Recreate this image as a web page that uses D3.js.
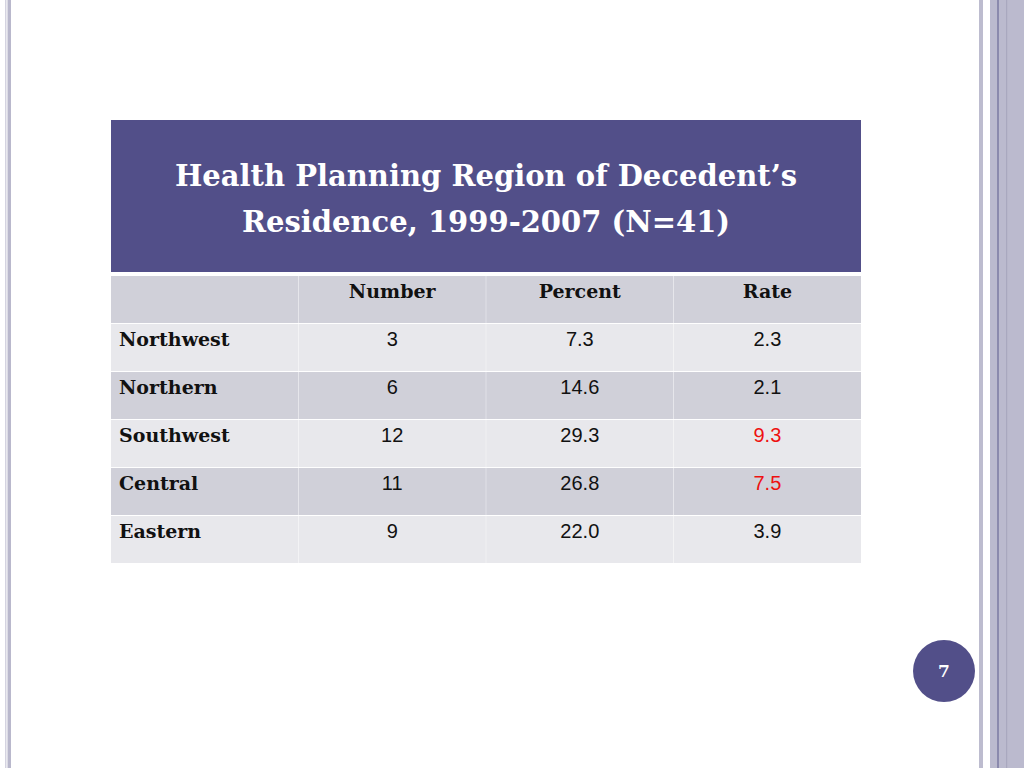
<!DOCTYPE html>
<html><head><meta charset="utf-8">
<script src="https://cdn.jsdelivr.net/npm/d3@7"></script>
<style>body{margin:0;background:#fff}svg{display:block}</style>
</head><body>
<script>
const titleLines = ["Health Planning Region of Decedent\u2019s", "Residence, 1999-2007 (N=41)"];
const columns = ["", "Number", "Percent", "Rate"];
const regions = ["Northwest", "Northern", "Southwest", "Central", "Eastern"];
const numbers = ["3", "6", "12", "11", "9"];
const percents = ["7.3", "14.6", "29.3", "26.8", "22.0"];
const rates = ["2.3", "2.1", "9.3", "7.5", "3.9"];
const highlightedRates = ["Southwest", "Central"];
const pageNumber = "7";

const W = 1024, H = 768;
const svg = d3.select("body").append("svg").attr("width", W).attr("height", H);
svg.append("rect").attr("width", W).attr("height", H).attr("fill", "#fff");

// slide decorations
svg.append("rect").attr("x", 5).attr("y", 0).attr("width", 1.5).attr("height", H).attr("fill", "#d4d3e0");
svg.append("rect").attr("x", 7.5).attr("y", 0).attr("width", 3.5).attr("height", H).attr("fill", "#b9b8cc");
svg.append("rect").attr("x", 979).attr("y", 0).attr("width", 4).attr("height", H).attr("fill", "#bdbccf");
svg.append("rect").attr("x", 990).attr("y", 0).attr("width", 34).attr("height", H).attr("fill", "#bbbace");
svg.append("rect").attr("x", 997.5).attr("y", 0).attr("width", 1).attr("height", H).attr("fill", "#5c5a8c");
svg.append("rect").attr("x", 1006).attr("y", 0).attr("width", 1.2).attr("height", H).attr("fill", "#a9a8bf");

// table geometry via scales
const x = d3.scaleBand().domain(d3.range(columns.length)).range([111, 861]).paddingInner(0.002);
const rowKeys = ["header"].concat(regions);
const y = d3.scaleBand().domain(rowKeys).range([276, 563]).paddingInner(0.02);

// title block
svg.append("rect").attr("x", 111).attr("y", 120).attr("width", 750).attr("height", 152).attr("fill", "#524f89");
svg.selectAll("text.title").data(titleLines).join("text")
  .attr("class", "title")
  .attr("x", 486).attr("y", (d, i) => 186 + i * 46)
  .attr("text-anchor", "middle")
  .attr("font-family", "'DejaVu Serif', serif").attr("font-weight", "bold")
  .attr("font-size", 29).attr("fill", "#fff")
  .text(d => d);

const rowFill = (k, i) => (i % 2 === 0) ? "#d0d0d9" : "#e8e8ec";

const cells = [];
rowKeys.forEach((k, ri) => {
  columns.forEach((c, ci) => {
    let t = "", bold = false, color = "#111";
    if (ri === 0) { t = c; bold = true; }
    else {
      const r = ri - 1;
      if (ci === 0) { t = regions[r]; bold = true; }
      else if (ci === 1) t = numbers[r];
      else if (ci === 2) t = percents[r];
      else { t = rates[r]; if (highlightedRates.includes(regions[r])) color = "#ee1111"; }
    }
    cells.push({ k, ri, ci, t, bold, color });
  });
});

const g = svg.append("g");
g.selectAll("rect.cell").data(cells).join("rect")
  .attr("x", d => x(d.ci)).attr("y", d => y(d.k))
  .attr("width", x.bandwidth()).attr("height", y.bandwidth())
  .attr("fill", d => rowFill(d.k, d.ri));

g.selectAll("text.cell").data(cells).join("text")
  .attr("x", d => d.ci === 0 ? x(d.ci) + 8 : x(d.ci) + x.bandwidth() / 2)
  .attr("y", d => y(d.k) + 22)
  .attr("text-anchor", d => d.ci === 0 ? "start" : "middle")
  .attr("font-family", d => d.bold ? "'DejaVu Serif', serif" : "'Liberation Sans', Arial, sans-serif")
  .attr("font-weight", d => d.bold ? "bold" : "normal")
  .attr("font-size", d => d.bold ? 19 : 20)
  .attr("fill", d => d.color)
  .text(d => d.t);

// page number
svg.append("circle").attr("cx", 944).attr("cy", 671).attr("r", 31).attr("fill", "#524f89");
svg.append("text").attr("x", 944).attr("y", 677).attr("text-anchor", "middle")
  .attr("font-family", "'DejaVu Serif', serif").attr("font-weight", "bold")
  .attr("font-size", 17).attr("fill", "#fff").text(pageNumber);
</script>
</body></html>
